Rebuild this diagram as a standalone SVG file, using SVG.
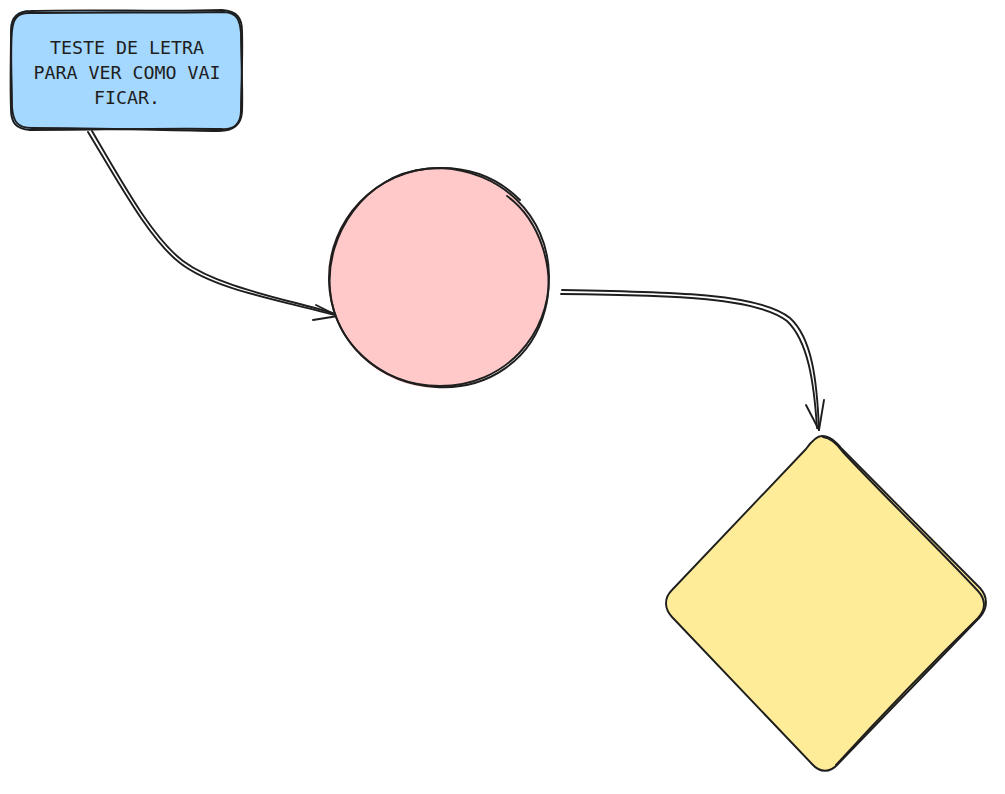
<svg xmlns="http://www.w3.org/2000/svg" width="1005" height="794" viewBox="0 0 1005 794">
<style>
.s{fill:none;stroke:#1e1e1e;stroke-width:1.9;stroke-linecap:round;stroke-linejoin:round}
.t{font-family:"DejaVu Sans Mono","Liberation Mono",monospace;font-size:18.3px;fill:#1e1e1e;text-anchor:middle}
</style>
<rect width="1005" height="794" fill="#ffffff"/>
<g id="connectors">
<path class="s" d="M88 132 C120 185 150 240 180 263 C215 290 280 300 338 316"/>
<path class="s" d="M92 131 C124 186 153 238 183 261 C218 287 282 298 336 314"/>
<path class="s" d="M316 305 L338 316 L313 320"/>
<path class="s" d="M562 290 C680 292 760 294 790 318 C812 338 817 380 819 430"/>
<path class="s" d="M561 294 C678 295 757 298 787 321 C808 341 814 382 817 428"/>
<path class="s" d="M806 405 L819 430 L824 400"/>
</g>
<g id="node-box">
<path d="M30 10 H222 Q242 10 242 30 V110 Q242 130 222 130 H30 Q10 130 10 110 V30 Q10 10 30 10 Z" fill="#a5d8ff"/>
<path class="s" d="M31 11 C90 9 160 12 222 10 C237 11 242 18 242 31 C243 58 241 85 241 110 C241 124 234 130 221 129 C160 128 90 130 30 130 C16 129 11 123 11 109 C10 82 11 55 11 30 C11 17 18 11 31 11 Z"/>
<path class="s" d="M29 13 C95 12 165 13 224 12 C238 13 240 21 241 33 C241 60 243 88 242 112 C241 126 232 131 219 131 C155 130 92 128 32 128 C17 128 13 121 12 107 C12 80 10 52 12 31 C13 19 17 13 29 13 Z"/>
<text class="t" x="127" y="54">TESTE DE LETRA</text>
<text class="t" x="127" y="79">PARA VER COMO VAI</text>
<text class="t" x="127" y="104">FICAR.</text>
</g>
<g id="node-circle">
<circle cx="438" cy="278" r="110" fill="#ffc9c9"/>
<path class="s" d="M507 196 C540 220 556 270 545 310 C532 360 488 390 436 387 C382 384 335 345 330 290 C325 235 365 175 425 169 C470 164 500 180 520 200"/>
<path class="s" d="M440 168 C500 170 548 215 549 275 C550 335 505 386 440 386 C378 386 330 340 329 280 C328 222 375 168 440 168 Z"/>
</g>
<g id="node-diamond">
<path d="M822 436 C830 436 836 442 842 449 L980 588 C988 597 988 608 980 617 L838 764 C830 773 820 773 812 764 L672 617 C664 608 664 598 672 590 L806 449 C811 442 816 436 822 436 Z" fill="#ffec99"/>
<path class="s" d="M822 436 C830 436 836 442 842 449 L980 588 C988 597 988 608 980 617 L838 764 C830 773 820 773 812 764 L672 617 C664 608 664 598 672 590 L806 449 C811 442 816 436 822 436 Z"/>
<path class="s" d="M823 437 C831 438 837 444 842 451 C880 492 935 545 978 591 C986 600 986 609 978 618 C930 665 880 717 836 765"/>
</g>
</svg>
